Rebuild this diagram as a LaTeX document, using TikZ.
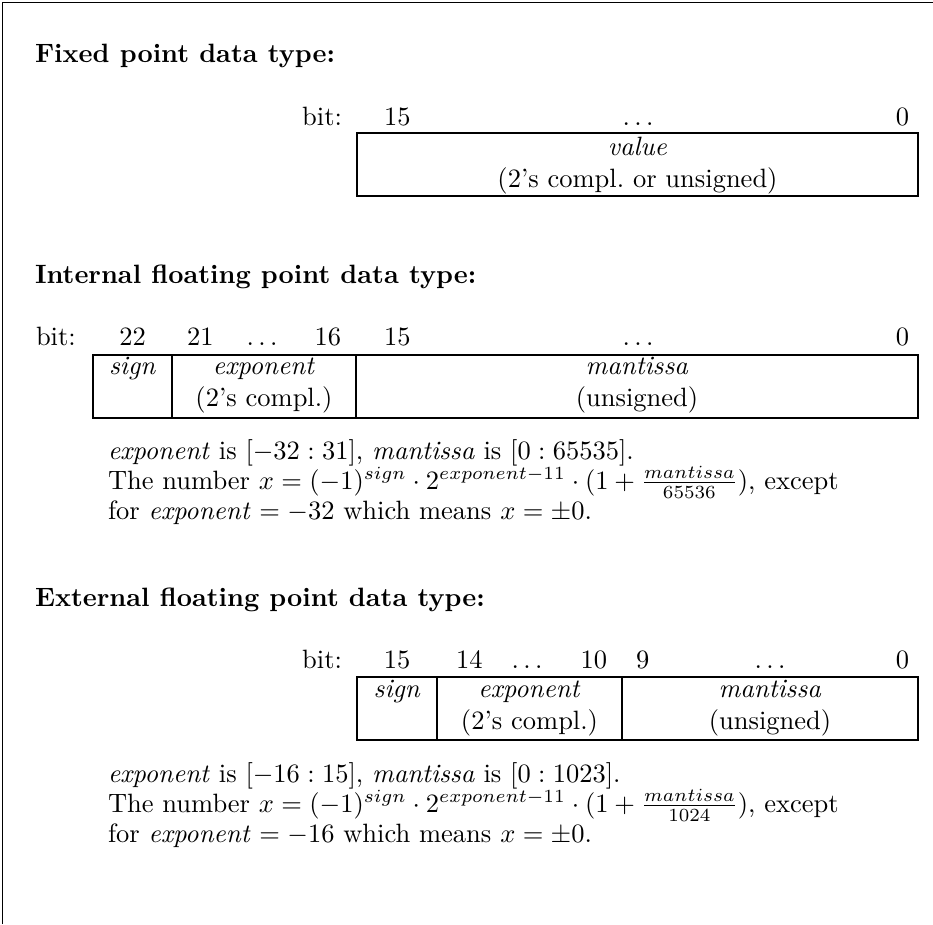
\documentclass[tikz,border=0pt]{standalone}
\usepackage{fontspec}
\newlength\pxu
\setlength\pxu{0.3774pt}
\newcommand\bitdots{\ensuremath{\ldots}}
\begin{document}
\begin{tikzpicture}[x=0.3774pt,y=-0.3774pt,
  txt/.style={inner sep=0pt, outer sep=0pt},
  cell/.style={draw, line width=0.4pt, inner sep=0pt, outer sep=0pt, anchor=north west},
  frameline/.style={line width=0.5pt}]
\useasboundingbox (0,0) rectangle (933,924);

% outer frame (top and left edges)
\coordinate (fbl) at (2.5,924);
\coordinate (ftl) at (2.5,2.5);
\coordinate (ftr) at (933,2.5);
\draw[frameline] (fbl) -- (ftl) -- (ftr);

% ---------------- fixed point ----------------
\node[txt, anchor=base west] (t1) at (35,63) {\bfseries Fixed point data type:};
\node[txt, anchor=base east] (b1) at (342,125) {bit:};
\node[txt, anchor=base west] (b1a) at (384,125) {15};
\node[txt, anchor=base] (b1b) at (638,125) {\bitdots};
\node[txt, anchor=base east] (b1c) at (909,125) {0};
\node[cell, minimum width=561\pxu, minimum height=63\pxu] (v1) at (357,133) {};
\node[txt, anchor=base] (v1a) at (637.5,155) {\textit{value}};
\node[txt, anchor=base] (v1b) at (637.5,187) {(2's compl.\ or unsigned)};

% ---------------- internal floating point ----------------
\node[txt, anchor=base west] (t2) at (35,283) {\bfseries Internal floating point data type:};
\node[txt, anchor=base west] (b2) at (36,345) {bit:};
\node[txt, anchor=base] (b2a) at (132.5,345) {22};
\node[txt, anchor=base west] (b2b) at (187,345) {21};
\node[txt, anchor=base] (b2c) at (262,345) {\bitdots};
\node[txt, anchor=base east] (b2d) at (341,345) {16};
\node[txt, anchor=base west] (b2e) at (384,345) {15};
\node[txt, anchor=base] (b2f) at (638,345) {\bitdots};
\node[txt, anchor=base east] (b2g) at (909,345) {0};
\node[cell, minimum width=79\pxu, minimum height=63\pxu] (s2) at (93,355) {};
\node[cell, minimum width=184\pxu, minimum height=63\pxu] (e2) at (172,355) {};
\node[cell, minimum width=562\pxu, minimum height=63\pxu] (m2) at (356,355) {};
\node[txt, anchor=base] (s2a) at (132.5,374) {\textit{sign}};
\node[txt, anchor=base] (e2a) at (264,374) {\textit{exponent}};
\node[txt, anchor=base] (e2b) at (264,406) {(2's compl.)};
\node[txt, anchor=base] (m2a) at (637,374) {\textit{mantissa}};
\node[txt, anchor=base] (m2b) at (637,406) {(unsigned)};
\node[txt, anchor=base west] (n2a) at (108,459) {\textit{exponent} is $[-32:31]$, \textit{mantissa} is $[0:65535]$.};
\node[txt, anchor=base west] (n2b) at (108,489) {The number $x=(-1)^{sign}\cdot 2^{exponent-11}\cdot(1+\frac{mantissa}{65536})$, except};
\node[txt, anchor=base west] (n2c) at (108,519) {for \textit{exponent} $=-32$ which means $x=\pm0$.};

% ---------------- external floating point ----------------
\node[txt, anchor=base west] (t3) at (35,606) {\bfseries External floating point data type:};
\node[txt, anchor=base east] (b3) at (342,668) {bit:};
\node[txt, anchor=base] (b3a) at (397,668) {15};
\node[txt, anchor=base west] (b3b) at (456,668) {14};
\node[txt, anchor=base] (b3c) at (527,668) {\bitdots};
\node[txt, anchor=base east] (b3d) at (607,668) {10};
\node[txt, anchor=base west] (b3e) at (636,668) {9};
\node[txt, anchor=base] (b3f) at (770,668) {\bitdots};
\node[txt, anchor=base east] (b3g) at (909,668) {0};
\node[cell, minimum width=80\pxu, minimum height=63\pxu] (s3) at (357,677) {};
\node[cell, minimum width=185\pxu, minimum height=63\pxu] (e3) at (437,677) {};
\node[cell, minimum width=296\pxu, minimum height=63\pxu] (m3) at (622,677) {};
\node[txt, anchor=base] (s3a) at (397,697) {\textit{sign}};
\node[txt, anchor=base] (e3a) at (529.5,697) {\textit{exponent}};
\node[txt, anchor=base] (e3b) at (529.5,729) {(2's compl.)};
\node[txt, anchor=base] (m3a) at (770,697) {\textit{mantissa}};
\node[txt, anchor=base] (m3b) at (770,729) {(unsigned)};
\node[txt, anchor=base west] (n3a) at (108,782) {\textit{exponent} is $[-16:15]$, \textit{mantissa} is $[0:1023]$.};
\node[txt, anchor=base west] (n3b) at (108,812) {The number $x=(-1)^{sign}\cdot 2^{exponent-11}\cdot(1+\frac{mantissa}{1024})$, except};
\node[txt, anchor=base west] (n3c) at (108,842) {for \textit{exponent} $=-16$ which means $x=\pm0$.};
\end{tikzpicture}
\end{document}
